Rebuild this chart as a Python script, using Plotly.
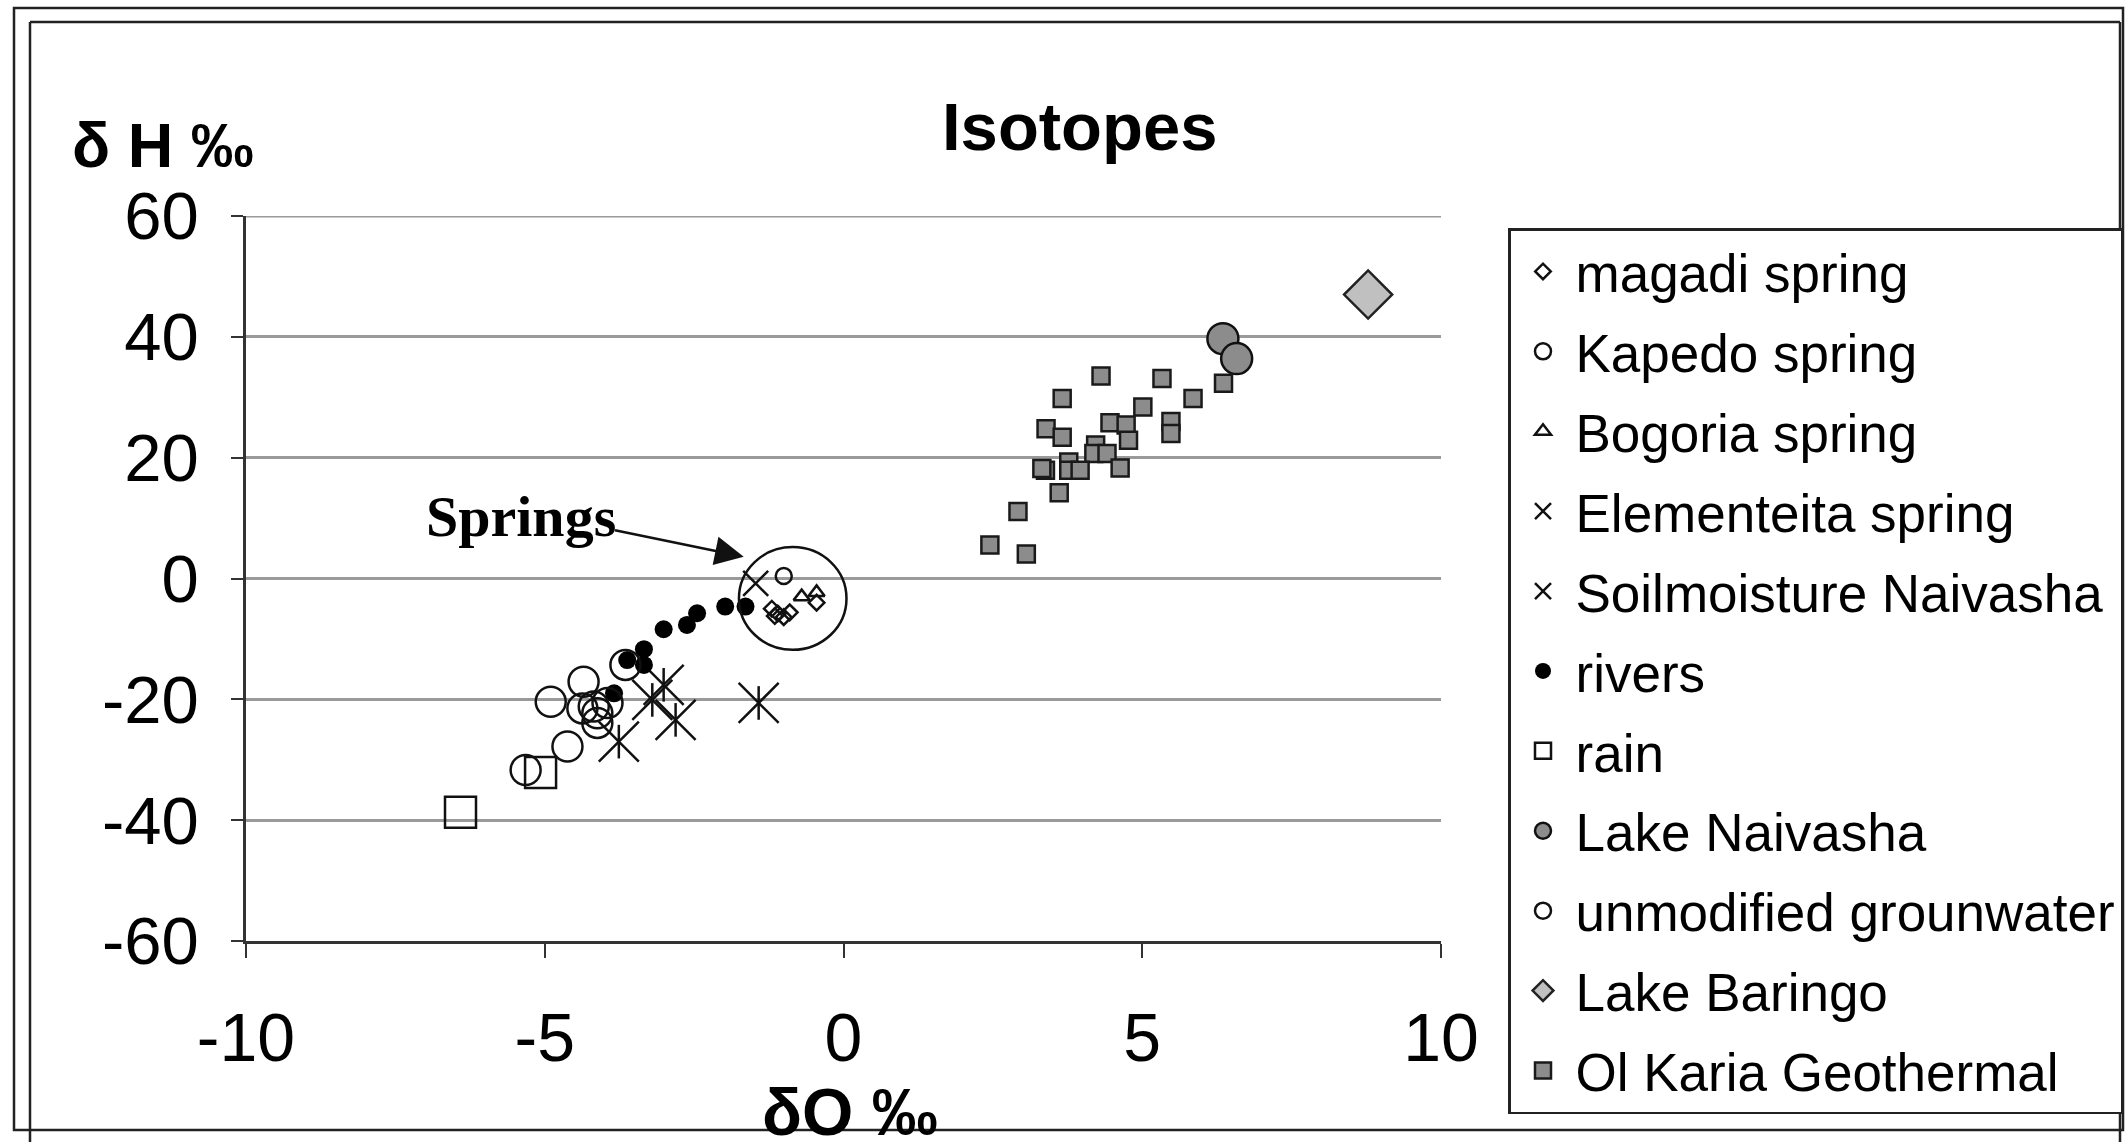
import plotly.graph_objects as go

# ---- isotope data (delta-18O vs delta-2H, per mil) ----
magadi_x = [-1.2, -1.1, -1.0, -0.9, -1.15, -0.45]
magadi_y = [-5.0, -5.8, -6.4, -5.6, -6.2, -4.0]

kapedo_x = [-1.0]
kapedo_y = [0.4]

bogoria_x = [-0.7, -0.45]
bogoria_y = [-3.0, -2.3]

elementeita_x = [-1.47]
elementeita_y = [-0.8]

soil_x = [-3.01, -3.20, -2.81, -3.76, -1.42]
soil_y = [-17.6, -20.1, -23.4, -27.0, -20.6]

rivers_x = [-1.64, -1.98, -2.45, -2.62, -3.01, -3.34, -3.62, -3.34, -3.84]
rivers_y = [-4.65, -4.65, -5.75, -7.68, -8.4, -11.7, -13.5, -14.3, -19.0]

rain_x = [-5.07, -6.41]
rain_y = [-32.1, -38.7]

naivasha_x = [6.35, 6.58]
naivasha_y = [39.7, 36.4]

groundwater_x = [-4.90, -4.35, -4.37, -4.18, -4.12, -4.12, -3.95, -3.65, -4.62, -5.32]
groundwater_y = [-20.4, -17.1, -21.5, -21.2, -22.3, -23.9, -20.6, -14.3, -27.8, -31.7]

baringo_x = [8.78]
baringo_y = [47.0]

olkaria_x = [4.31, 5.33, 3.66, 5.85, 5.01, 6.36, 3.39, 3.66, 4.46, 4.73, 4.77, 5.48, 5.48,
             4.22, 4.19, 4.41, 3.77, 3.77, 3.96, 3.38, 3.32, 4.63, 3.61, 2.92, 2.45, 3.06]
olkaria_y = [33.5, 33.1, 29.8, 29.8, 28.4, 32.3, 24.8, 23.4, 25.8, 25.4, 22.9, 26.0, 24.0,
             22.1, 20.7, 20.7, 19.3, 17.9, 17.9, 17.9, 18.2, 18.3, 14.2, 11.1, 5.55, 4.06]

x_ticks = [-10, -5, 0, 5, 10]
y_ticks = [-60, -40, -20, 0, 20, 40, 60]

# ---- page geometry (pixels); the axes sit inside a full-page paper ----
W, H = 2127, 1142
PL, PR, PT, PB = 246, 1441, 216, 941


def pxx(x):
    return x / W


def pxy(y):
    return 1 - y / H


SANS = "Liberation Sans, Arial, sans-serif"
SERIF = "Liberation Serif, Times New Roman, serif"
INK = "#111111"

fig = go.Figure()


def add(name, xs, ys, symbol, size, color="white", lw=2.5, lcolor=INK, showlegend=True):
    fig.add_trace(go.Scatter(
        x=xs, y=ys, mode="markers", name=name, legendgroup=name,
        showlegend=showlegend,
        marker=dict(symbol=symbol, size=size, color=color,
                    line=dict(width=lw, color=lcolor)),
    ))


add("magadi spring", magadi_x, magadi_y, "diamond-open", 12, color=INK, lw=2.5)
add("Kapedo spring", kapedo_x, kapedo_y, "circle-open", 16, color=INK, lw=2.5)
add("Bogoria spring", bogoria_x, bogoria_y, "triangle-up-open", 14, color=INK, lw=2.5)
add("Elementeita spring", elementeita_x, elementeita_y, "x-thin-open", 25, color=INK, lw=2.5)
add("Soilmoisture Naivasha", soil_x, soil_y, "x-thin-open", 40, color=INK, lw=2.5)
add("Soilmoisture Naivasha", soil_x, soil_y, "line-ns-open", 24, color=INK, lw=2.5,
    showlegend=False)
add("rivers", rivers_x, rivers_y, "circle", 18, color="black", lw=0)
add("rain", rain_x, rain_y, "square-open", 31, color=INK, lw=2.5)
add("Lake Naivasha", naivasha_x, naivasha_y, "circle", 31, color="#8c8c8c", lw=2.5)
add("unmodified grounwater", groundwater_x, groundwater_y, "circle-open", 30, color=INK, lw=2.5)
add("Lake Baringo", baringo_x, baringo_y, "diamond", 37, color="#c0c0c0", lw=2.5, lcolor="#222222")
add("Ol Karia Geothermal", olkaria_x, olkaria_y, "square", 17, color="#8c8c8c", lw=2.5, lcolor="#1a1a1a")

shapes = [
    # top gridline at the axis maximum
    dict(type="line", xref="x", yref="y", x0=-10, x1=10, y0=60, y1=60,
         line=dict(color="#9a9a9a", width=3), layer="below"),
    # darker stretch of the -40 gridline
    dict(type="line", xref="x", yref="y", x0=-10, x1=-1.85, y0=-40, y1=-40,
         line=dict(color="#222222", width=2), layer="below"),
    # ring round the spring samples
    dict(type="circle", xref="x", yref="y", x0=-1.75, x1=0.05, y0=-11.8, y1=5.2,
         line=dict(color=INK, width=2.5)),
    # outer page frame
    dict(type="rect", xref="paper", yref="paper", x0=pxx(14), x1=pxx(2123),
         y0=pxy(8), y1=pxy(1130), line=dict(color="#222222", width=2.5)),
    # inner chart frame
    dict(type="line", xref="paper", yref="paper", x0=pxx(30), x1=pxx(2120),
         y0=pxy(22), y1=pxy(22), line=dict(color="#222222", width=2.5)),
    dict(type="line", xref="paper", yref="paper", x0=pxx(30), x1=pxx(30),
         y0=pxy(22), y1=pxy(1142), line=dict(color="#222222", width=2.5)),
    dict(type="line", xref="paper", yref="paper", x0=pxx(2120), x1=pxx(2120),
         y0=pxy(22), y1=pxy(1142), line=dict(color="#222222", width=2.5)),
]

annotations = [
    dict(text="<b>Isotopes</b>", xref="paper", yref="paper", x=pxx(1080), y=pxy(127),
         xanchor="center", yanchor="middle", showarrow=False,
         font=dict(family=SANS, size=67, color="black")),
    dict(text="<b>δ H ‰</b>", xref="paper", yref="paper", x=pxx(70), y=pxy(145),
         xanchor="left", yanchor="middle", showarrow=False,
         font=dict(family=SANS, size=63, color="black")),
    dict(text="<b>δO ‰</b>", xref="paper", yref="paper", x=pxx(850), y=pxy(1112),
         xanchor="center", yanchor="middle", showarrow=False,
         font=dict(family=SANS, size=66, color="black")),
    dict(text="<b>Springs</b>", xref="x", yref="y", x=-5.39, y=10.3,
         xanchor="center", yanchor="middle", showarrow=False,
         font=dict(family=SERIF, size=58, color="black")),
    dict(text="", xref="x", yref="y", x=-1.67, y=3.61,
         axref="x", ayref="y", ax=-3.85, ay=8.03, showarrow=True,
         arrowhead=2, arrowsize=2.3, arrowwidth=2.5, arrowcolor=INK),
]

fig.update_layout(
    width=W, height=H, autosize=False,
    margin=dict(l=0, r=0, t=0, b=0, pad=0, autoexpand=False),
    paper_bgcolor="white", plot_bgcolor="white",
    showlegend=True,
    legend=dict(
        xref="paper", yref="paper",
        x=pxx(1508), y=pxy(228), xanchor="left", yanchor="top",
        font=dict(family=SANS, size=53, color="black"),
        bgcolor="white", bordercolor="#222222", borderwidth=2.5,
        tracegroupgap=8, itemsizing="trace", itemwidth=55,
    ),
    shapes=shapes,
    annotations=annotations,
    xaxis=dict(
        domain=[PL / W, PR / W],
        range=[-10, 10], tickvals=x_ticks, ticktext=[str(v) for v in x_ticks],
        showgrid=False, zeroline=False, showline=True, linecolor="#333333", linewidth=2.5,
        ticks="outside", ticklen=14, tickwidth=2, tickcolor="#333333",
        tickfont=dict(family=SANS, size=68, color="black"), ticklabelstandoff=22,
    ),
    yaxis=dict(
        domain=[1 - PB / H, 1 - PT / H],
        range=[-60, 60], tickvals=y_ticks, ticktext=[str(v) for v in y_ticks],
        showgrid=True, gridcolor="#9a9a9a", gridwidth=3,
        zeroline=False, showline=True, linecolor="#333333", linewidth=2.5,
        ticks="outside", ticklen=12, tickwidth=2, tickcolor="#333333",
        tickfont=dict(family=SANS, size=67, color="black"), ticklabelstandoff=19,
    ),
)

fig.write_html("out.html")
